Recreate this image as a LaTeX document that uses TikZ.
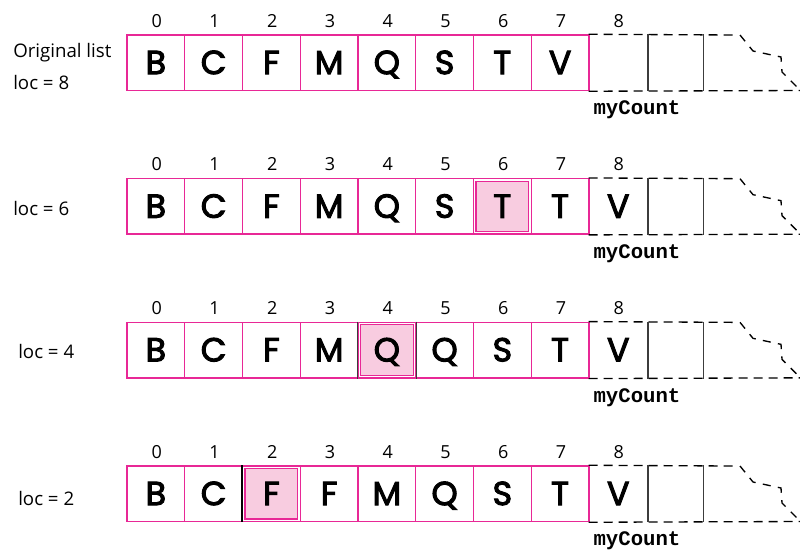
\documentclass[tikz,border=0pt]{standalone}
\usepackage{fontspec}
\setmainfont{Open Sans}
\newfontfamily\cellfont[FakeBold=3]{Poppins}
\newfontfamily\codefont{Liberation Mono}
\definecolor{mag}{RGB}{232,40,150}
\definecolor{pinkfill}{RGB}{248,204,224}
\definecolor{sepgray}{RGB}{60,60,60}
\begin{document}
\begin{tikzpicture}[x=0.75pt,y=-0.75pt,
  cell/.style={draw=mag,line width=1.1pt,minimum width=43.3125pt,minimum height=41.625pt,inner sep=0pt,
    font=\cellfont\fontsize{25}{25}\selectfont,text height=17pt,text depth=0pt},
  opencell/.style={cell,draw=none},
  hlbox/.style={draw=mag,fill=pinkfill,line width=0.9pt,minimum width=39.5pt,minimum height=37.8pt,inner sep=0pt},
  idx/.style={font=\fontsize{13.5}{13.5}\selectfont,inner sep=0pt,anchor=base},
  lab/.style={font=\fontsize{14}{14}\selectfont,inner sep=0pt,anchor=base west},
  code/.style={font=\codefont\bfseries\fontsize{15.5}{15.5}\selectfont,inner sep=0pt,anchor=base},
  dashline/.style={line width=1pt,dash pattern=on 6.75pt off 4.5pt},
  solidsep/.style={line width=1.1pt,draw=sepgray},
]
\useasboundingbox (0,0) rectangle (800,553);
\fill[white] (0,0) rectangle (800,553);

% labels
\node[lab] (lab0a) at (13,57) {Original list};
\node[lab] (lab0b) at (13,89) {loc = 8};
\node[lab] (lab1) at (13,215) {loc = 6};
\node[lab] (lab2) at (18,358) {loc = 4};
\node[lab] (lab3) at (18,505) {loc = 2};

\foreach \r/\hl/\last/\letters in {
  0/-1/{}/{B,C,F,M,Q,S,T,V},
  1/6/V/{B,C,F,M,Q,S,T,T},
  2/4/V/{B,C,F,M,Q,Q,S,T},
  3/2/V/{B,C,F,F,M,Q,S,T}}{
  \pgfmathsetmacro\yc{62.75+143.67*\r}
  % highlight behind
  \ifnum\hl>-1
    \pgfmathsetmacro\xh{127+57.75*(\hl+0.5)}
    \node[hlbox] (hl-\r) at (\xh,\yc) {};
  \fi
  % cells 0..7
  \foreach \L [count=\c from 0] in \letters {
    \pgfmathsetmacro\xc{127+57.75*(\c+0.5)}
    \node[cell] (c-\r-\c) at (\xc,\yc) {\L};
  }
  % open cells
  \node[opencell] (c-\r-8) at (618.25,\yc) {\last};
  \node[opencell,minimum width=42pt] (c-\r-9) at (675,\yc) {};
  \coordinate (t1-\r) at (733,\yc-27.75);
  \coordinate (b1-\r) at (800,\yc+27.75);
  \coordinate (tr0-\r) at (740,\yc-27.75);
  \coordinate (tr1-\r) at (753,\yc-11.75);
  \coordinate (tr2-\r) at (781,\yc-5.75);
  \coordinate (tr3-\r) at (782,\yc+9.25);
  \coordinate (tr4-\r) at (800,\yc+27.25);
  \draw[dashline] (c-\r-8.north west) -- (t1-\r);
  \draw[dashline] (c-\r-8.south west) -- (b1-\r);
  \draw[dashline,dash pattern=on 6pt off 5.5pt] (tr0-\r) -- (tr1-\r) -- (tr2-\r) -- (tr3-\r) -- (tr4-\r);
  \draw[solidsep] (c-\r-8.north east) -- (c-\r-8.south east);
  \draw[solidsep] (c-\r-9.north east) -- (c-\r-9.south east);
  % indices
  \foreach \c in {0,...,8} {
    \pgfmathsetmacro\xc{127+57.75*(\c+0.5)+1}
    \node[idx] (i-\r-\c) at (\xc,\yc-35.5) {\c};
  }
  \node[code] (m-\r) at (637,\yc+52) {myCount};
}
% darker separators
\draw[solidsep] (c-2-4.north west) -- (c-2-4.south west);
\draw[solidsep] (c-2-4.north east) -- (c-2-4.south east);
\draw[solidsep,draw=black] (c-3-2.north west) -- (c-3-2.south west);
\end{tikzpicture}
\end{document}
